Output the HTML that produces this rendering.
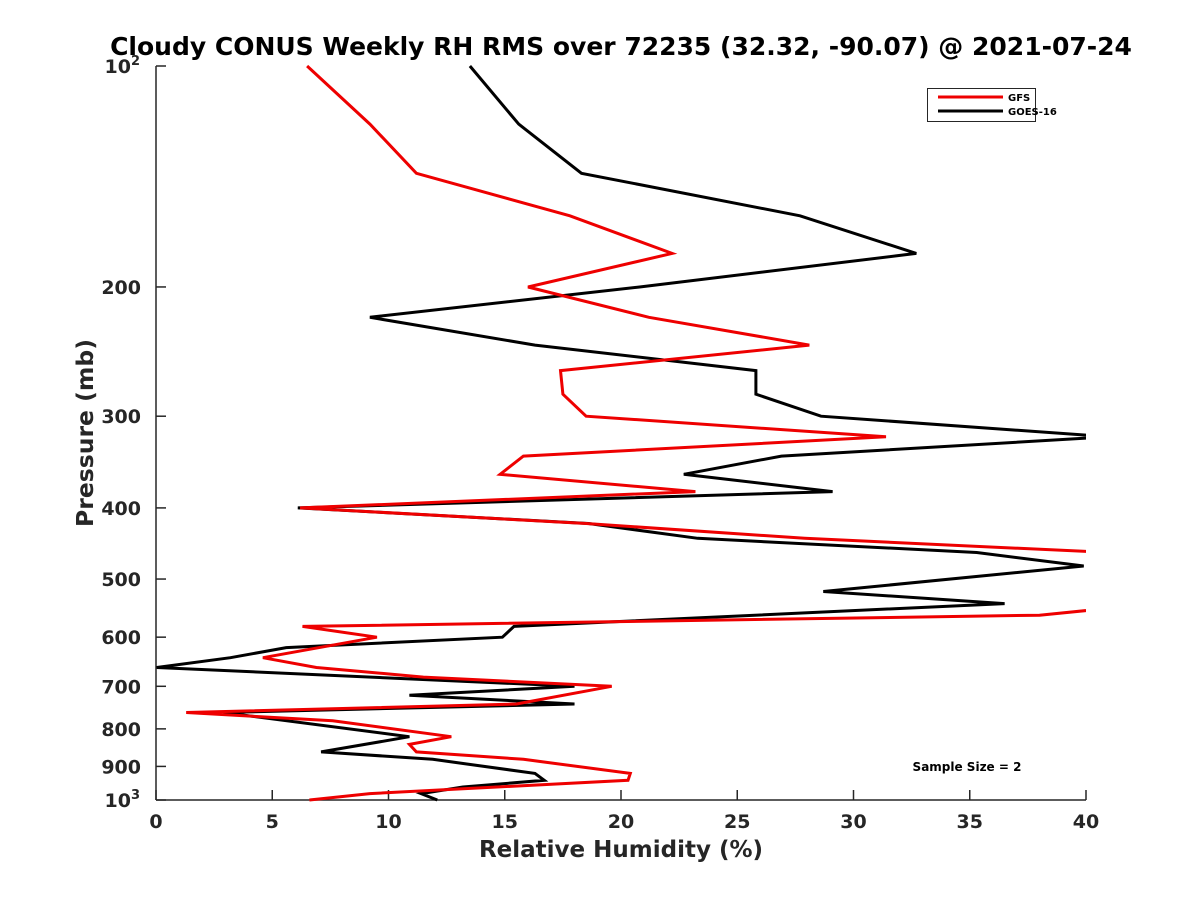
<!DOCTYPE html>
<html><head><meta charset="utf-8"><style>
html,body{margin:0;padding:0;background:#fff;}
svg{display:block;font-family:"Liberation Sans","DejaVu Sans",sans-serif;}
</style></head><body>
<svg id="chart" width="1200" height="900" viewBox="0 0 1200 900" xmlns="http://www.w3.org/2000/svg">
<rect width="1200" height="900" fill="#fff"/>
<defs><clipPath id="plotclip"><rect x="156" y="60" width="930" height="745"/></clipPath></defs>
<text x="621" y="55" text-anchor="middle" font-family="DejaVu Sans, sans-serif" font-weight="bold" font-size="25" fill="#000">Cloudy CONUS Weekly RH RMS over 72235 (32.32, -90.07) @ 2021-07-24</text>
<g id="axes"></g>
<g id="series" clip-path="url(#plotclip)"></g>
<g>
<rect x="927.5" y="88.5" width="108" height="33" fill="#fff" stroke="#262626" stroke-width="1"/>
<line x1="938" y1="97" x2="1003" y2="97" stroke="#ee0000" stroke-width="3"/>
<text x="1008" y="101" font-family="DejaVu Sans, sans-serif" font-weight="bold" font-size="10" fill="#000">GFS</text>
<line x1="938" y1="111" x2="1003" y2="111" stroke="#000" stroke-width="3"/>
<text x="1008" y="115" font-family="DejaVu Sans, sans-serif" font-weight="bold" font-size="10" fill="#000">GOES-16</text>
</g>
<text x="967" y="771" text-anchor="middle" font-family="DejaVu Sans, sans-serif" font-weight="bold" font-size="12" fill="#000">Sample Size = 2</text>
<text x="621" y="857" text-anchor="middle" font-family="DejaVu Sans, sans-serif" font-weight="bold" font-size="23" fill="#262626">Relative Humidity (%)</text>
<text transform="translate(93,433) rotate(-90)" text-anchor="middle" font-family="DejaVu Sans, sans-serif" font-weight="bold" font-size="23.5" fill="#262626">Pressure (mb)</text>
</svg>
<script>
const gfsPressure = [100,120,140,160,180,200,220,240,260,280,300,320,340,360,380,400,420,440,460,480,500,520,540,560,580,600,640,660,680,700,740,760,780,820,840,860,880,920,940,980,1000];
const gfsRH = [6.5,9.2,11.2,17.8,22.2,16.0,21.2,28.1,17.4,17.5,18.5,31.4,15.8,14.8,23.2,6.2,18.5,27.9,41,45,46,46,43,38,6.3,9.5,4.6,6.9,11.5,19.6,15.5,1.3,7.6,12.7,10.9,11.2,15.8,20.4,20.3,9.2,6.6];
const goesPressure = [100,120,140,160,180,200,220,240,260,280,300,320,340,360,380,400,420,440,460,480,520,540,580,600,620,640,660,700,720,740,760,820,860,880,920,940,960,980,1000];
const goesRH = [13.5,15.6,18.3,27.7,32.7,20.8,9.2,16.3,25.8,25.8,28.6,41,26.9,22.7,29.1,6.1,18.6,23.3,35.3,39.9,28.7,36.5,15.4,14.9,5.6,3.2,0.03,18.0,10.9,18.0,2.9,10.9,7.1,11.9,16.3,16.7,13.2,11.4,12.1];
const xTicks = [0,5,10,15,20,25,30,35,40];
const yTicks = [100,200,300,400,500,600,700,800,900,1000];
const yTickLabels = ["10|2","200","300","400","500","600","700","800","900","10|3"];

const X0=156, X1=1086, Y0=66, Y1=800, XMIN=0, XMAX=40;
function xScale(v){return X0+(v-XMIN)/(XMAX-XMIN)*(X1-X0);}
function yScale(p){return Y0+(Math.log10(p)-2)*(Y1-Y0);}
const NS="http://www.w3.org/2000/svg";
const axes=document.getElementById('axes');
const series=document.getElementById('series');
function mk(tag,attrs,parent){const e=document.createElementNS(NS,tag);for(const k in attrs)e.setAttribute(k,attrs[k]);parent.appendChild(e);return e;}

const yAxis=mk('line',{x1:X0,y1:Y0,x2:X0,y2:Y1,stroke:'#262626','stroke-width':1.5},axes);


const xAxis=mk('line',{x1:X0,y1:Y1,x2:X1,y2:Y1,stroke:'#262626','stroke-width':1.5},axes);



xTicks.forEach(v=>{
  const x=xScale(v);
  const t=mk('line',{x1:x,y1:Y1,x2:x,y2:Y1-10,stroke:'#262626','stroke-width':1.5},axes);
  
  
  const l=mk('text',{x:x,y:Y1+28,'text-anchor':'middle','font-family':'DejaVu Sans, sans-serif','font-weight':'bold','font-size':19,fill:'#262626'},axes);
  l.textContent=String(v);
  
  
});
yTicks.forEach((p,i)=>{
  const y=yScale(p);
  const t=mk('line',{x1:X0,y1:y,x2:X0+10,y2:y,stroke:'#262626','stroke-width':1.5},axes);
  
  
  const lab=yTickLabels[i];
  const l=mk('text',{x:X0-15,y:y+7,'text-anchor':'end','font-family':'DejaVu Sans, sans-serif','font-weight':'bold','font-size':19,fill:'#262626'},axes);
  if(lab.indexOf('|')>=0){
    const parts=lab.split('|');
    l.setAttribute('x',X0-25);
    l.textContent=parts[0];
    const s=mk('text',{x:X0-25,y:y-1,'text-anchor':'start','font-family':'DejaVu Sans, sans-serif','font-weight':'bold','font-size':13,fill:'#262626'},axes);
    s.textContent=parts[1];
    
    
  } else l.textContent=lab;
  
  
});

function drawLine(ps,vals,color,name){
  const pts=ps.map((p,i)=>xScale(vals[i]).toFixed(1)+','+yScale(p).toFixed(1)).join(' ');
  const pl=mk('polyline',{points:pts,fill:'none',stroke:color,'stroke-width':3,'stroke-linejoin':'miter'},series);
  
  
}
drawLine(goesPressure,goesRH,'#000','goes16-line');
drawLine(gfsPressure,gfsRH,'#ee0000','gfs-line');
</script>
</body></html>
